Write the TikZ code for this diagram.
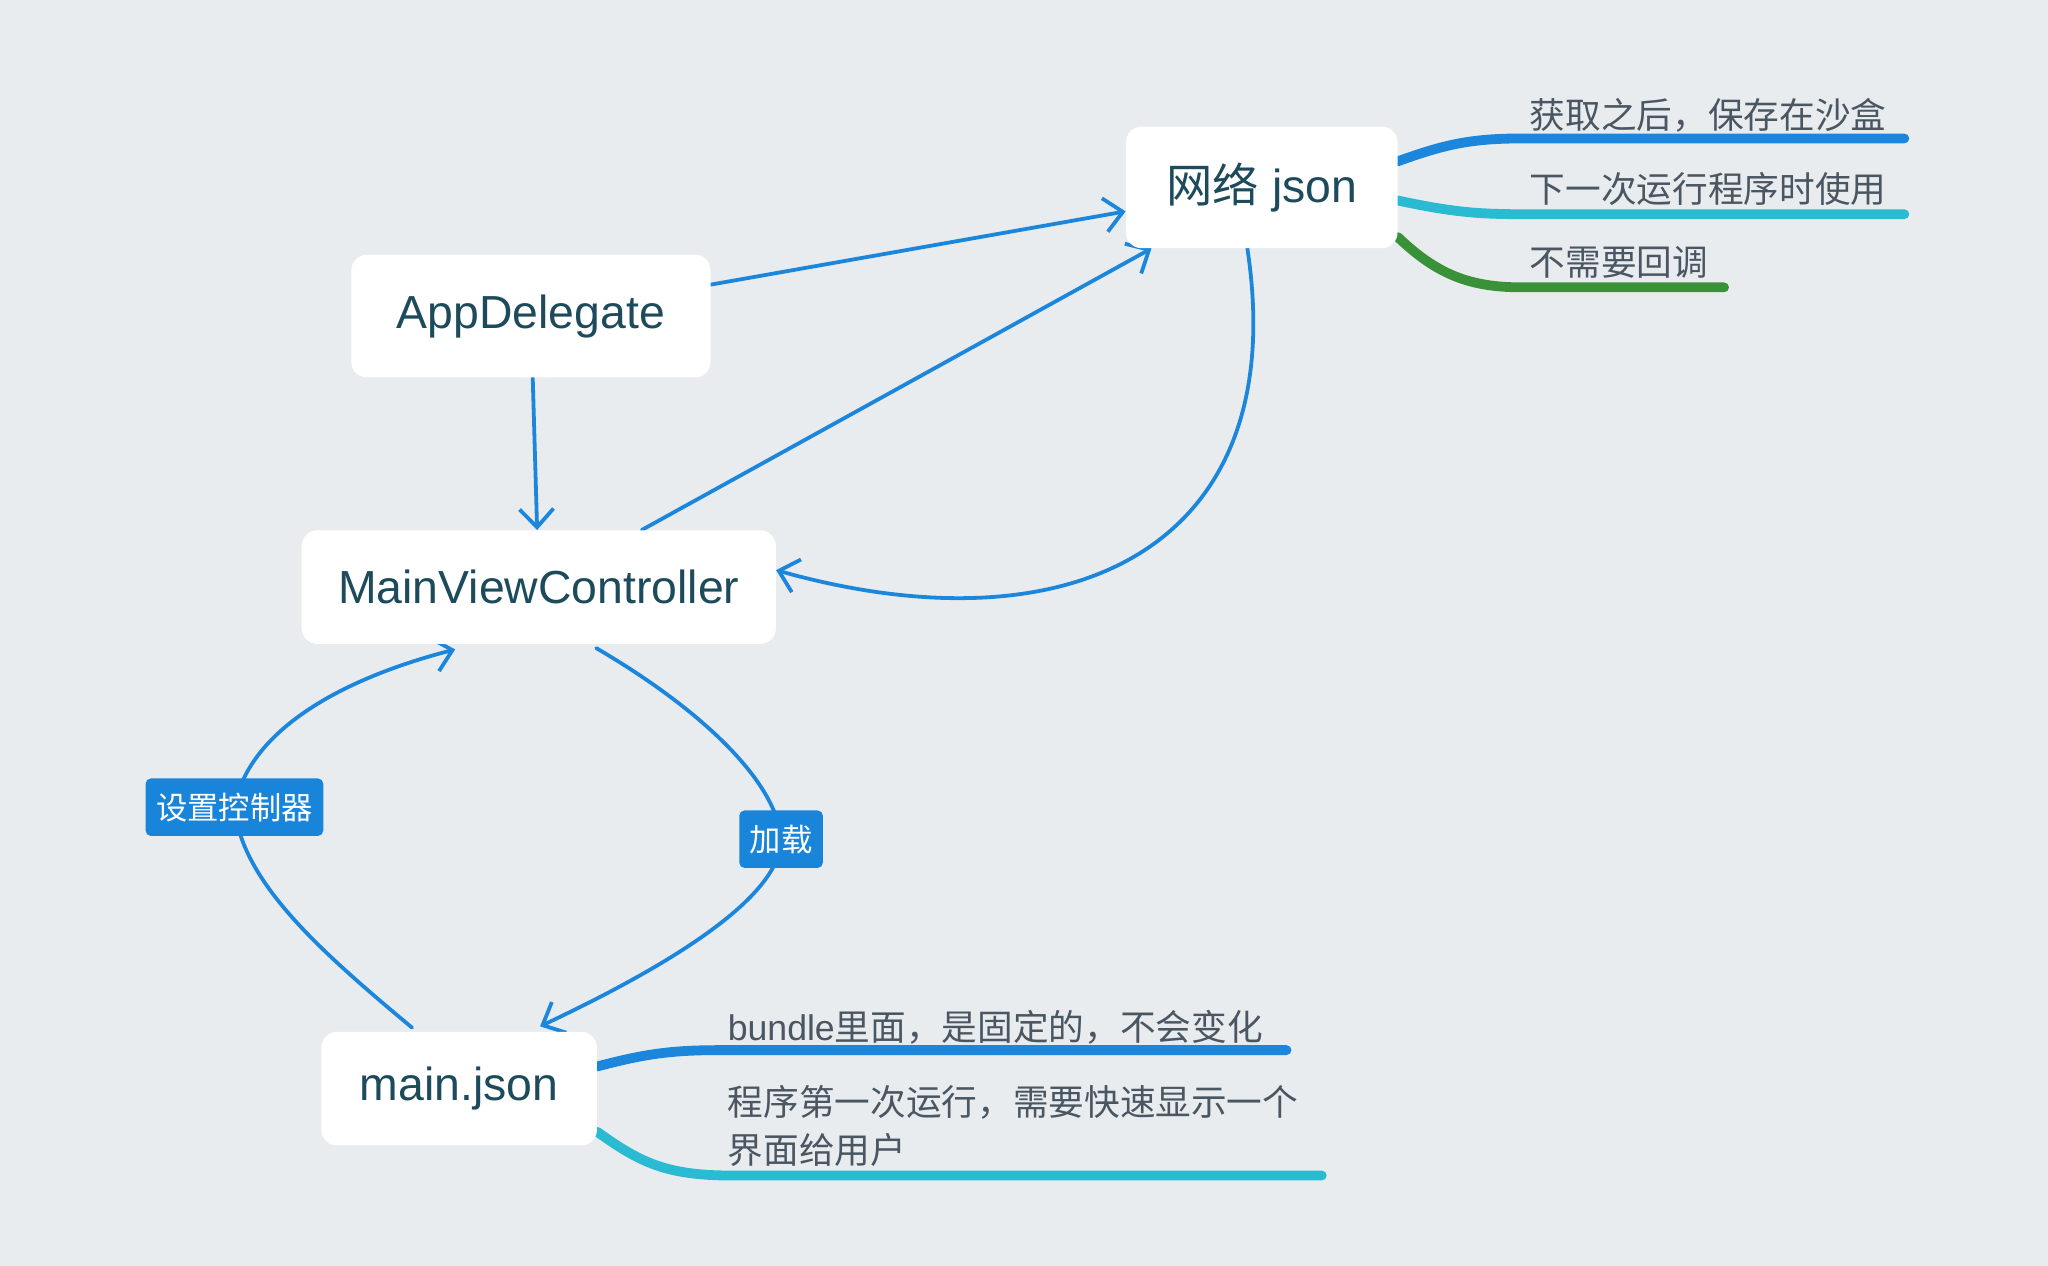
\documentclass[tikz,border=0pt]{standalone}
\usepackage{fontspec}
\setmainfont{Liberation Sans}
\newfontfamily\cjk{Noto Sans CJK SC}
\usetikzlibrary{arrows.meta,calc}
\definecolor{bgc}{HTML}{E8ECEF}
\definecolor{edgeblue}{HTML}{1B86DB}
\definecolor{labblue}{HTML}{1884DA}
\definecolor{bcyan}{HTML}{2ABBD3}
\definecolor{bgreen}{HTML}{3A9238}
\definecolor{ntext}{HTML}{1D4B5C}
\definecolor{btext}{HTML}{4A5661}
\pgfdeclarelayer{bgl}
\pgfdeclarelayer{edges}
\pgfsetlayers{bgl,edges,main}
\begin{document}
\begin{tikzpicture}[x=1pt,y=-1pt,
  box/.style={fill=white, rounded corners=12pt, text=ntext, inner sep=0pt,
    font=\fontsize{35.5}{40}\selectfont},
  lab/.style={fill=labblue, text=white, rounded corners=4pt, inner xsep=8pt,
    minimum height=44pt, font=\cjk\fontsize{24}{26}\selectfont},
  arr/.style={draw=edgeblue, line width=2.9pt, line cap=round,
    -{Straight Barb[length=14pt,width=26pt,line width=2.9pt]}},
  brline/.style={line width=7.5pt, line cap=round},
  bt/.style={text=btext, inner sep=0pt, anchor=base west,
    font=\fontsize{27.3}{30}\selectfont}]
\begin{pgfonlayer}{bgl}
\fill[bgc] (0,0) rectangle (1568,969);
\end{pgfonlayer}
\useasboundingbox (0,0) rectangle (1568,969);

% main nodes
\node[box, minimum width=275pt, minimum height=94pt] (app) at (406.5,242) {\raisebox{-1pt}{AppDelegate}};
\node[box, minimum width=208pt, minimum height=93pt] (net) at (966,143.5) {\raisebox{-2pt}{{\cjk 网络} json}};
\node[box, minimum width=363pt, minimum height=87pt] (mvc) at (412.5,449.5) {\raisebox{-1pt}{MainViewController}};
\node[box, minimum width=211pt, minimum height=87pt] (main) at (351.5,833.5) {\raisebox{-2pt}{main.json}};

% edge labels
\node[lab] (l1) at (179.5,618) {设置控制器};
\node[lab] (l2) at (598,642.5) {加载};

% branch texts
\node[bt] (t1) at (1171,98) {\cjk 获取之后，保存在沙盒};
\node[bt] (t2) at (1171,155) {\cjk 下一次运行程序时使用};
\node[bt] (t3) at (1171,211) {\cjk 不需要回调};
\node[bt] (t4) at (557,797) {bundle{\cjk 里面，是固定的，不会变化}};
\node[bt] (t5) at (557,854) {\cjk 程序第一次运行，需要快速显示一个};
\node[bt] (t6) at (557,891) {\cjk 界面给用户};

\coordinate (e1) at (1458,106);
\coordinate (e2) at (1458,164);
\coordinate (e3) at (1320,220);
\coordinate (e4) at (985,804);
\coordinate (e5) at (1012,900);

\begin{pgfonlayer}{edges}
% connectors
\draw[arr] (app) -- (net);
\draw[arr] (mvc) -- (net);
\draw[arr] (app) -- (mvc);
\draw[arr] ([xshift=-11pt]net.south) .. controls (990,420) and (820,500) .. ([yshift=13pt]mvc.east);
\draw[arr] ([xshift=44pt,yshift=-3pt]mvc.south) .. controls (540,545) and (595,600) .. (l2.center)
   .. controls (598,690) and (500,745) .. ([xshift=62pt,yshift=4pt]main.north);
\draw[arr] ([xshift=-36pt,yshift=3pt]main.north) .. controls (245,728) and (185,675) .. (l1.center)
   .. controls (190,560) and (260,520) .. ([xshift=-64pt,yshift=-4pt]mvc.south);

% mind-map branches
\draw[brline, draw=edgeblue] ([yshift=20pt]net.east) .. controls (1105,111) and (1125,106) .. (1165,106) -- (e1);
\draw[brline, draw=bcyan] ([yshift=-10pt]net.east) .. controls (1110,162) and (1130,164) .. (1165,164) -- (e2);
\draw[brline, draw=bgreen] ([yshift=-38pt]net.east) .. controls (1100,210) and (1125,220) .. (1165,220) -- (e3);
\draw[brline, draw=edgeblue] ([yshift=17pt]main.east) .. controls (490,808) and (510,804) .. (550,804) -- (e4);
\draw[brline, draw=bcyan] ([yshift=-33pt]main.east) .. controls (490,890) and (510,900) .. (560,900) -- (e5);
\end{pgfonlayer}
\end{tikzpicture}
\end{document}
